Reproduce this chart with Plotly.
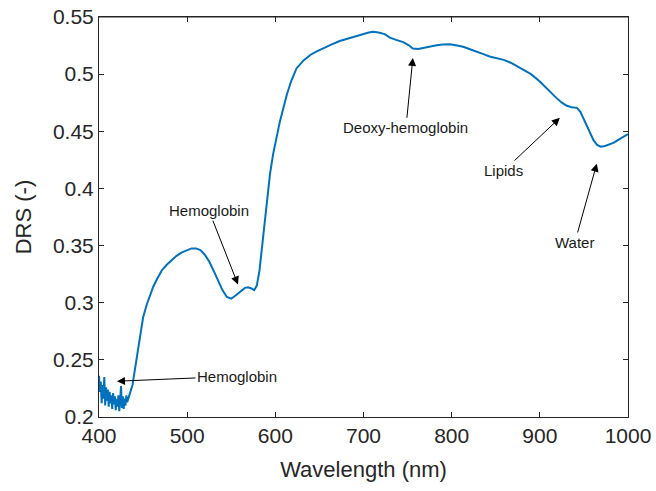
import plotly.graph_objects as go

# Wavelength (nm) and DRS (-)
wavelength = [400, 401, 402, 403, 404, 405, 406, 407, 408, 409, 410, 411, 412, 413, 414,
              415, 416, 417, 418, 419, 420, 421, 422, 423, 424, 425, 426, 427, 428, 429,
              430, 431, 432, 434, 436, 438, 440, 442.5, 444.5, 446.5, 450, 454, 458, 461.5,
              466, 471, 476.5, 482, 488, 494, 500, 505, 510, 515, 520, 525, 530, 535, 540,
              545, 550, 556, 561, 565.5, 569, 573, 576, 579, 582, 585, 588, 591, 594, 597.5,
              601, 605, 609, 613, 618, 624, 632, 640, 647, 655, 664, 673, 682, 691, 700,
              706, 711, 717, 724, 730, 737, 745, 751, 756, 762, 768, 775, 783, 790, 798,
              806, 813, 820, 828, 836, 843, 851, 859, 867, 874, 882, 890, 900, 906, 913,
              919, 925, 930, 936, 942, 946, 949, 953, 957, 961, 965, 969, 974, 979, 984,
              988, 991, 995, 1000]
drs = [0.236, 0.222, 0.231, 0.212, 0.228, 0.216, 0.235, 0.210, 0.226, 0.214, 0.224, 0.209, 0.222, 0.212, 0.219,
       0.207, 0.221, 0.211, 0.218, 0.206, 0.216, 0.209, 0.219, 0.205, 0.215, 0.227, 0.208, 0.218, 0.207, 0.216,
       0.210, 0.219, 0.213, 0.218, 0.222, 0.228, 0.238, 0.250, 0.262, 0.273, 0.287, 0.298, 0.307, 0.314,
       0.321, 0.328, 0.333, 0.337, 0.341, 0.344, 0.346, 0.3475, 0.3475, 0.346, 0.342, 0.336, 0.328, 0.319, 0.311,
       0.305, 0.3035, 0.307, 0.310, 0.313, 0.3135, 0.3125, 0.311, 0.315, 0.328, 0.350, 0.372, 0.395, 0.413, 0.430,
       0.444, 0.458, 0.470, 0.482, 0.494, 0.505, 0.512, 0.517, 0.520, 0.523, 0.526, 0.529, 0.531, 0.533, 0.5355,
       0.5365, 0.537, 0.5365, 0.535, 0.532, 0.530, 0.528, 0.5255, 0.5225, 0.522, 0.523, 0.5245, 0.5252, 0.526, 0.5262,
       0.525, 0.524, 0.522, 0.520, 0.5175, 0.5155, 0.514, 0.5125, 0.510, 0.507, 0.504, 0.500, 0.4935, 0.489, 0.483,
       0.479, 0.475, 0.4725, 0.471, 0.4705, 0.467, 0.462, 0.455, 0.4475, 0.442, 0.438, 0.4365, 0.4372, 0.4385, 0.440,
       0.442, 0.4435, 0.445, 0.4475]

# Annotations: label, arrow-head position, text position
ann_text = ["Hemoglobin", "Hemoglobin", "Deoxy-hemoglobin", "Lipids", "Water"]
ann_head_x = [420.4, 557.6, 756.0, 922.7, 964.6]
ann_head_y = [0.2313, 0.316, 0.5142, 0.4618, 0.4217]
ann_text_x = [556.5, 524.7, 748.1, 859.2, 939.7]
ann_text_y = [0.2357, 0.3806, 0.4531, 0.4156, 0.3527]

x_ticks = [400, 500, 600, 700, 800, 900, 1000]
y_ticks = [0.2, 0.25, 0.3, 0.35, 0.4, 0.45, 0.5, 0.55]
y_tick_labels = ["0.2", "0.25", "0.3", "0.35", "0.4", "0.45", "0.5", "0.55"]

font_family = "Liberation Sans, Arial, Helvetica, sans-serif"
axis_color = "#262626"

fig = go.Figure()
fig.add_trace(go.Scatter(x=wavelength, y=drs, mode="lines",
                         line=dict(color="#0072BD", width=2), showlegend=False))

for t, hx, hy, tx, ty in zip(ann_text, ann_head_x, ann_head_y, ann_text_x, ann_text_y):
    fig.add_annotation(x=hx, y=hy, ax=tx, ay=ty, xref="x", yref="y", axref="x", ayref="y",
                       text=t, showarrow=True, arrowhead=2, arrowsize=1.6, arrowwidth=1,
                       arrowcolor="black", font=dict(family=font_family, size=15, color="#1a1a1a"))

# top edge of the axes box (MATLAB-style box on)
fig.add_shape(type="line", xref="paper", yref="paper", x0=0, x1=1, y0=1, y1=1,
              line=dict(color=axis_color, width=1), layer="above")

axis_common = dict(showline=True, linecolor=axis_color, linewidth=1, mirror="ticks",
                   ticks="inside", ticklen=5, tickcolor=axis_color, showgrid=False, zeroline=False,
                   automargin=False, ticklabeloverflow="allow",
                   tickfont=dict(family=font_family, size=21, color=axis_color))

fig.update_xaxes(range=[400, 1000], tickvals=x_ticks,
                 title=dict(text="Wavelength (nm)", font=dict(family=font_family, size=22, color=axis_color)),
                 **axis_common)
fig.update_yaxes(range=[0.2, 0.55], tickvals=y_ticks, ticktext=y_tick_labels,
                 title=dict(text="DRS (-)", font=dict(family=font_family, size=22, color=axis_color)),
                 **axis_common)

fig.update_layout(width=656, height=491, autosize=False,
                  margin=dict(l=99, r=28, t=17, b=74),
                  plot_bgcolor="white", paper_bgcolor="white")

# remove the browser's default page margin so the figure fills the window exactly
fig.write_html("out.html", config={"displayModeBar": False},
               post_script="document.body.style.margin='0';")
